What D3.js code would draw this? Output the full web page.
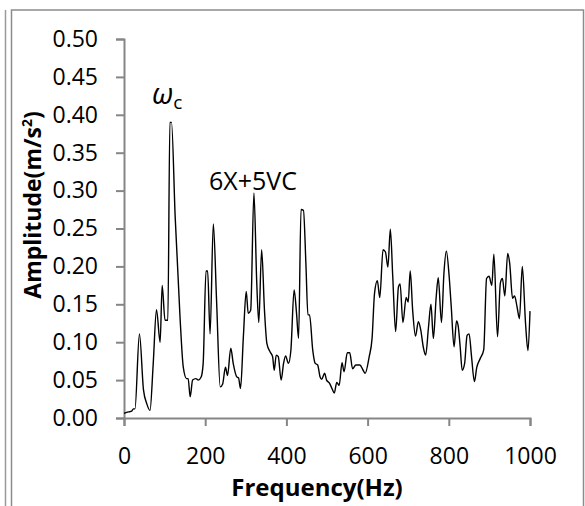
<!DOCTYPE html>
<html>
<head>
<meta charset="utf-8">
<script src="https://cdn.jsdelivr.net/npm/d3@7"></script>
<style>
body {margin: 0; background: #fff}
svg {display: block}
text {font-family: "Open Sans", sans-serif; fill: #000}
</style>
</head>
<body>
<svg width="585" height="506"></svg>
<script>
'use strict';
// spectrum: frequency (Hz) and amplitude (m/s^2)
const freqHz = [0, 11, 19, 23, 27, 38, 48, 56, 64, 72, 80, 89, 94, 101, 108, 113, 117, 126, 138, 146,
	154, 158, 163, 169, 177, 183, 190, 195, 202, 206, 212, 220, 228, 237, 243, 250, 255, 263, 269, 278,
	282, 287, 294, 301, 306, 312, 320, 327, 332, 339, 346, 352, 360, 366, 370, 375, 380, 387, 393, 398,
	405, 411, 419, 425, 430, 436, 442, 448, 453, 457, 465, 471, 477, 483, 487, 494, 499, 506, 513, 518,
	524, 530, 537, 542, 550, 556, 563, 571, 581, 589, 594, 604, 611, 617, 624, 630, 638, 644, 650, 656,
	662, 669, 676, 680, 687, 695, 700, 705, 711, 718, 725, 731, 737, 743, 750, 756, 762, 769, 774, 782,
	788, 794, 801, 806, 813, 819, 823, 828, 833, 839, 845, 850, 856, 863, 869, 877, 886, 893, 899, 906,
	911, 920, 927, 932, 938, 945, 950, 957, 962, 968, 974, 981, 989, 995, 1000]
const amplitude = [0.006, 0.008, 0.009, 0.012, 0.012, 0.111, 0.037, 0.019, 0.010, 0.072, 0.143, 0.100, 0.175, 0.129, 0.129, 0.390, 0.390, 0.266, 0.133, 0.067,
	0.052, 0.052, 0.028, 0.050, 0.052, 0.050, 0.054, 0.072, 0.194, 0.194, 0.111, 0.256, 0.155, 0.041, 0.045, 0.067, 0.056, 0.092, 0.072, 0.054,
	0.053, 0.039, 0.107, 0.167, 0.138, 0.142, 0.297, 0.178, 0.126, 0.222, 0.142, 0.098, 0.087, 0.081, 0.063, 0.083, 0.081, 0.050, 0.072, 0.082,
	0.072, 0.089, 0.169, 0.138, 0.105, 0.275, 0.274, 0.204, 0.136, 0.136, 0.089, 0.072, 0.070, 0.054, 0.051, 0.059, 0.050, 0.046, 0.038, 0.033,
	0.047, 0.043, 0.073, 0.061, 0.086, 0.086, 0.065, 0.070, 0.070, 0.063, 0.059, 0.081, 0.105, 0.164, 0.181, 0.159, 0.222, 0.219, 0.199, 0.249,
	0.186, 0.114, 0.173, 0.177, 0.126, 0.159, 0.153, 0.194, 0.142, 0.108, 0.127, 0.116, 0.094, 0.083, 0.120, 0.150, 0.105, 0.160, 0.185, 0.126,
	0.191, 0.220, 0.186, 0.147, 0.094, 0.128, 0.122, 0.094, 0.063, 0.072, 0.109, 0.111, 0.081, 0.048, 0.067, 0.078, 0.090, 0.184, 0.187, 0.175,
	0.216, 0.107, 0.178, 0.184, 0.161, 0.217, 0.204, 0.158, 0.161, 0.147, 0.131, 0.200, 0.125, 0.089, 0.141]
const xTicks = [0, 200, 400, 600, 800, 1000]
const yTicks = [0, 0.05, 0.10, 0.15, 0.20, 0.25, 0.30, 0.35, 0.40, 0.45, 0.50]

let eSvg = d3.select("svg")
let dLeft = 124, dRight = 530, dTop = 39, dBottom = 418
let axisCol = "#868686"

// chart frame (cropped Excel chart)
eSvg.append("rect").attr("x", 11.5).attr("y", 10).attr("width", 572).attr("height", 510)
	.attr("fill", "none").attr("stroke", "#8c8c8c").attr("stroke-width", 1.5)
eSvg.append("line").attr("x1", 5.5).attr("x2", 5.5).attr("y1", 10).attr("y2", 506)
	.attr("stroke", "#9a9a9a").attr("stroke-width", 1.5)

let x = d3.scaleLinear().domain([0, 1000]).range([dLeft, dRight])
let y = d3.scaleLinear().domain([0, 0.5]).range([dBottom, dTop])

let gx = eSvg.append("g").attr("transform", `translate(0,${dBottom})`)
	.call(d3.axisBottom(x).tickValues(xTicks).tickSize(8).tickPadding(22).tickFormat(d3.format("d")))
let gy = eSvg.append("g").attr("transform", `translate(${dLeft},0)`)
	.call(d3.axisLeft(y).tickValues(yTicks).tickSize(8).tickPadding(18).tickFormat(d3.format(".2f")))

for (let g of [gx, gy]) {
	g.select(".domain").attr("stroke", axisCol).attr("stroke-width", 2)
	g.selectAll(".tick line").attr("stroke", axisCol).attr("stroke-width", 2)
	g.selectAll(".tick text").attr("font-family", '"Open Sans", sans-serif')
		.attr("font-size", 23).attr("fill", "#000")}

// spectrum line, smoothed like the original
let line = d3.line().x((d, i) => x(freqHz[i])).y(d => y(d)).curve(d3.curveMonotoneX)
eSvg.append("path").datum(amplitude)
	.attr("d", line).attr("fill", "none").attr("stroke", "#000")
	.attr("stroke-width", 1.4).attr("stroke-linejoin", "round")

// axis titles
eSvg.append("text").attr("x", 317).attr("y", 496).attr("text-anchor", "middle")
	.attr("font-size", 24).attr("font-weight", "bold").text("Frequency(Hz)")
let eYT = eSvg.append("text").attr("transform", "translate(41,205) rotate(-90)")
	.attr("text-anchor", "middle").attr("font-size", 23).attr("font-weight", "bold")
eYT.append("tspan").text("Amplitude(m/s")
eYT.append("tspan").attr("font-size", 14).attr("dy", -9).text("2")
eYT.append("tspan").attr("dy", 9).text(")")

// annotations
let eW = eSvg.append("text").attr("x", 152).attr("y", 104).attr("font-size", 29)
	.attr("font-family", '"DejaVu Serif", serif').attr("font-style", "italic")
eW.append("tspan").text("ω")
eW.append("tspan").attr("font-size", 19).attr("dy", 5).attr("font-family", '"Open Sans", sans-serif')
	.attr("font-style", "normal").text("c")
eSvg.append("text").attr("x", 209).attr("y", 190).attr("font-size", 25).text("6X+5VC")
</script>
</body>
</html>
